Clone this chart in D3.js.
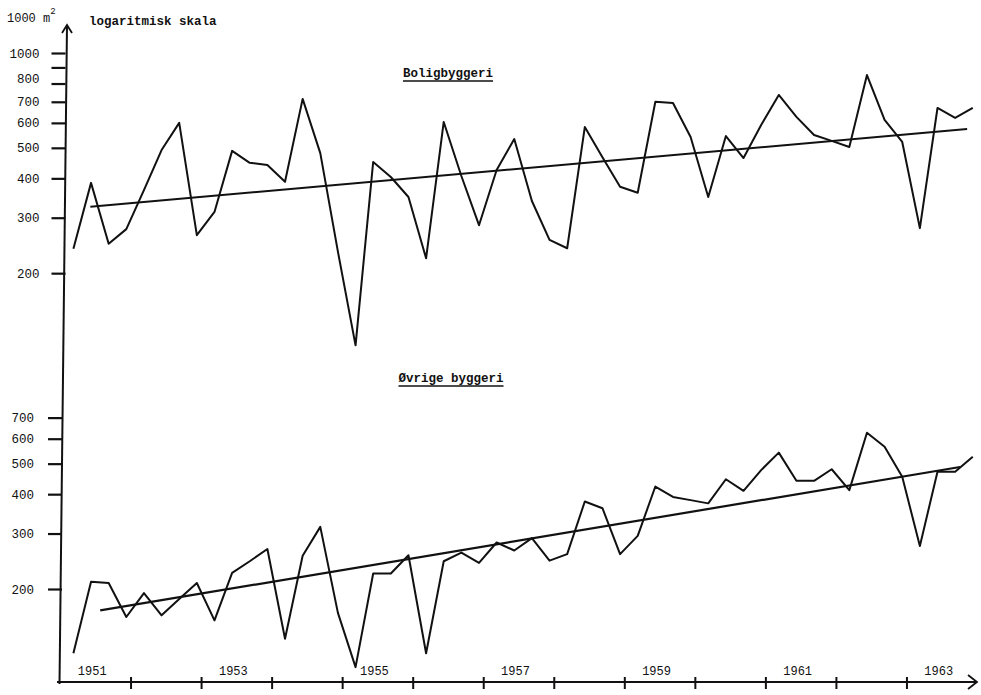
<!DOCTYPE html>
<html>
<head>
<meta charset="utf-8">
<script src="https://cdn.jsdelivr.net/npm/d3@7"></script>
<style>
  body { margin: 0; background: #fff; }
  svg { display: block; }
  text { font-family: "Liberation Mono", "DejaVu Sans Mono", monospace; fill: #111; }
</style>
</head>
<body>
<svg id="chart" width="981" height="695"></svg>
<script>
// ---- data (quarterly, 1951 Q1 .. 1963 Q4), 1000 m2, logarithmic scale ----
const startYear = 1951;
const quarters = d3.range(52).map(i => `${startYear + Math.floor(i / 4)} K${(i % 4) + 1}`);

const boligbyggeri = [
  239, 387, 248, 276, 367, 492, 600, 264, 313, 489, 448, 441,
  390, 715, 481, 234, 118, 451, 404, 349, 223, 604, 407, 284,
  425, 533, 339, 255, 240, 582, 467, 376, 360, 700, 694, 541,
  349, 545, 464, 591, 736, 627, 549, 526, 503, 851, 613, 522,
  278, 669, 622, 669
];

const ovrigeByggeri = [
  125, 211, 209, 163, 194, 165, 186, 209, 159, 225, 245, 268,
  139, 255, 315, 168, 113, 224, 224, 256, 125, 245, 261, 242,
  281, 265, 290, 246, 258, 379, 361, 258, 295, 423, 392, 383,
  374, 446, 410, 477, 542, 441, 441, 480, 412, 627, 566, 454,
  274, 471, 471, 526
];

// trend lines (time in years, value)
const trendBoligT = [1951.43, 1963.86];
const trendBoligV = [325, 574];
const trendOvrigeT = [1951.57, 1963.76];
const trendOvrigeV = [171, 488];

const upperTicks = [200, 300, 400, 500, 600, 700, 800, 900, 1000];
const upperLabelled = [200, 300, 400, 500, 600, 700, 800, 1000];
const lowerTicks = [200, 300, 400, 500, 600, 700];
const yearTicks = d3.range(1952, 1964);
const yearLabels = ["1951", "1953", "1955", "1957", "1959", "1961", "1963"];

// ---- layout ----
const svg = d3.select("#chart");
const pxPerDecade = 315;
const x = d3.scaleLinear().domain([1951, 1964]).range([60, 977]);
const yUp = d3.scaleLog().domain([200, 1000])
  .range([53 + pxPerDecade * Math.log10(1000 / 200), 53]);
const yLo = d3.scaleLog().domain([200, 700])
  .range([589, 589 - pxPerDecade * Math.log10(700 / 200)]);

const qTime = i => startYear + i / 4 + 0.19;
const axisY = 682;

// y axis line (slightly slanted, hand drawn) + arrow
const axTop = [67, 25], axBot = [59.5, axisY + 2];
svg.append("line").attr("x1", axTop[0]).attr("y1", axTop[1])
  .attr("x2", axBot[0]).attr("y2", axBot[1])
  .attr("stroke", "#111").attr("stroke-width", 2);
svg.append("path")
  .attr("d", `M${axTop[0] - 5},${axTop[1] + 8} L${axTop[0]},${axTop[1]} L${axTop[0] + 5},${axTop[1] + 8}`)
  .attr("fill", "none").attr("stroke", "#111").attr("stroke-width", 1.8);

// upper y axis
const gUp = svg.append("g").attr("transform", "translate(65.5,0)")
  .call(d3.axisLeft(yUp).tickValues(upperTicks).tickSize(14).tickPadding(12)
    .tickFormat(d => upperLabelled.includes(d) ? d : ""));
// lower y axis
const gLo = svg.append("g").attr("transform", "translate(62,0)")
  .call(d3.axisLeft(yLo).tickValues(lowerTicks).tickSize(14).tickPadding(14)
    .tickFormat(d => d));
[gUp, gLo].forEach(g => {
  g.select(".domain").remove();
  g.selectAll(".tick line").attr("stroke", "#111").attr("stroke-width", 2.2);
  g.selectAll(".tick text").style("font-family", "'Liberation Mono', monospace")
    .style("font-size", "12.5px").attr("fill", "#111");
});
gUp.selectAll(".tick text").filter(d => d === 800).attr("dy", "-0.05em");

// x axis
const gX = svg.append("g").attr("transform", `translate(0,${axisY})`)
  .call(d3.axisBottom(x).tickValues(yearTicks).tickSize(6).tickFormat(""));
gX.select(".domain").remove();
gX.selectAll(".tick line").attr("y1", -5).attr("y2", 7)
  .attr("stroke", "#111").attr("stroke-width", 2);
svg.append("line").attr("x1", 57).attr("y1", axisY).attr("x2", 976).attr("y2", axisY)
  .attr("stroke", "#111").attr("stroke-width", 2);
svg.append("path")
  .attr("d", `M968,${axisY - 7} L977,${axisY} L968,${axisY + 7}`)
  .attr("fill", "none").attr("stroke", "#111").attr("stroke-width", 1.8);

svg.append("g").selectAll("text").data(yearLabels).join("text")
  .attr("x", d => x(+d + 0.5) - 3).attr("y", 675)
  .attr("text-anchor", "middle")
  .style("font-size", "12px")
  .text(d => d);

// lines
const lineUp = d3.line().x((d, i) => x(qTime(i))).y(d => yUp(d));
const lineLo = d3.line().x((d, i) => x(qTime(i))).y(d => yLo(d));

svg.append("path").datum(boligbyggeri).attr("d", lineUp)
  .attr("fill", "none").attr("stroke", "#111").attr("stroke-width", 2)
  .attr("stroke-linejoin", "round");
svg.append("path").datum(ovrigeByggeri).attr("d", lineLo)
  .attr("fill", "none").attr("stroke", "#111").attr("stroke-width", 2)
  .attr("stroke-linejoin", "round");

const trendLine = (T, V, yS) => d3.line().x(d => x(d[0])).y(d => yS(d[1]))(d3.zip(T, V));
svg.append("path").attr("d", trendLine(trendBoligT, trendBoligV, yUp))
  .attr("fill", "none").attr("stroke", "#111").attr("stroke-width", 2);
svg.append("path").attr("d", trendLine(trendOvrigeT, trendOvrigeV, yLo))
  .attr("fill", "none").attr("stroke", "#111").attr("stroke-width", 2.2);

// texts
const unit = svg.append("text").attr("x", 7).attr("y", 22).style("font-size", "12px");
unit.append("tspan").text("1000 m");
unit.append("tspan").attr("dy", -8).style("font-size", "9px").text("2");
svg.append("text").attr("x", 89).attr("y", 25).style("font-size", "12.5px")
  .style("font-weight", "bold").text("logaritmisk skala");

function title(t, cx, y) {
  const el = svg.append("text").attr("x", cx).attr("y", y).attr("text-anchor", "middle")
    .style("font-size", "12.5px").style("font-weight", "bold").text(t);
  const bb = el.node().getBBox();
  svg.append("line").attr("x1", bb.x).attr("x2", bb.x + bb.width)
    .attr("y1", y + 4).attr("y2", y + 4).attr("stroke", "#111").attr("stroke-width", 1.5);
}
title("Boligbyggeri", 448, 77);
title("Øvrige byggeri", 451, 382);
</script>
</body>
</html>
